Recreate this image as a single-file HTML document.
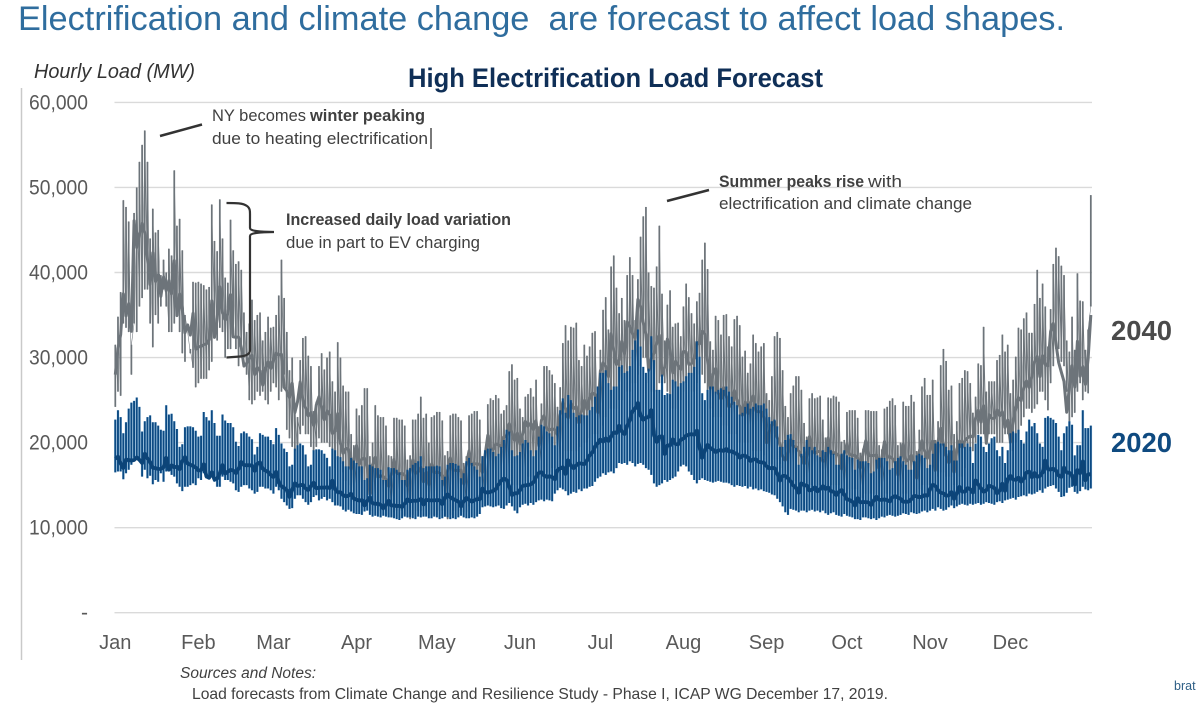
<!DOCTYPE html>
<html lang="en">
<head>
<meta charset="utf-8">
<title>High Electrification Load Forecast</title>
<style>
html,body{margin:0;padding:0;background:#fff;}
body{width:1200px;height:707px;overflow:hidden;}
svg{display:block;font-family:"Liberation Sans",sans-serif;}
</style>
</head>
<body>
<svg id="chart" width="1200" height="707" viewBox="0 0 1200 707" xmlns="http://www.w3.org/2000/svg">
  <text x="18" y="30" font-size="34" fill="#2f6d9e" textLength="1047" lengthAdjust="spacingAndGlyphs">Electrification and climate change&#160; are forecast to affect load shapes.</text>
  <text x="408" y="87" font-size="27" font-weight="bold" fill="#0f2f57" textLength="415" lengthAdjust="spacingAndGlyphs">High Electrification Load Forecast</text>
  <text x="34" y="78" font-size="20" font-style="italic" fill="#333" textLength="161" lengthAdjust="spacingAndGlyphs">Hourly Load (MW)</text>
  <line x1="21.5" y1="88" x2="21.5" y2="660" stroke="#c9c9c9" stroke-width="1.5"/>
  <g id="grid"></g>
  <g id="yticks"></g>
  <g id="xticks"></g>
  <g id="marks"></g>

  <line x1="160" y1="136" x2="202" y2="124.5" stroke="#333" stroke-width="2.5"/>
  <text x="212" y="121" font-size="16.5" fill="#404040" textLength="94" lengthAdjust="spacingAndGlyphs">NY becomes</text>
  <text x="310" y="121" font-size="16.5" font-weight="bold" fill="#404040" textLength="115" lengthAdjust="spacingAndGlyphs">winter peaking</text>
  <text x="212" y="144" font-size="16.5" fill="#404040" textLength="216" lengthAdjust="spacingAndGlyphs">due to heating electrification</text>
  <line x1="431" y1="128" x2="431" y2="149" stroke="#222" stroke-width="1.2"/>

  <path d="M226.5 203 C236 203 243 203 247 206 C250 208 250 211 250 214 L250 228 C250 231 260 232 274 232 C260 232 250 233 250 236 L250 350 C250 354 246 356 240 356.5 L226.5 357.5" fill="none" stroke="#333" stroke-width="2.2"/>
  <text x="286" y="225" font-size="16.5" font-weight="bold" fill="#404040" textLength="225" lengthAdjust="spacingAndGlyphs">Increased daily load variation</text>
  <text x="286" y="248" font-size="16.5" fill="#404040" textLength="194" lengthAdjust="spacingAndGlyphs">due in part to EV charging</text>

  <line x1="667" y1="201" x2="709" y2="190" stroke="#333" stroke-width="2.5"/>
  <text x="719" y="187" font-size="16.5" font-weight="bold" fill="#404040" textLength="145" lengthAdjust="spacingAndGlyphs">Summer peaks rise</text>
  <text x="868" y="187" font-size="16.5" fill="#404040" textLength="34" lengthAdjust="spacingAndGlyphs">with</text>
  <text x="719" y="209" font-size="16.5" fill="#404040" textLength="253" lengthAdjust="spacingAndGlyphs">electrification and climate change</text>

  <text x="1111" y="340" font-size="28" font-weight="bold" fill="#4a4a4a" textLength="61" lengthAdjust="spacingAndGlyphs">2040</text>
  <text x="1111" y="452" font-size="28" font-weight="bold" fill="#0f4a80" textLength="61" lengthAdjust="spacingAndGlyphs">2020</text>

  <text x="180" y="678" font-size="15.5" font-style="italic" fill="#404040" textLength="136" lengthAdjust="spacingAndGlyphs">Sources and Notes:</text>
  <text x="192" y="699" font-size="16" fill="#404040" textLength="696" lengthAdjust="spacingAndGlyphs">Load forecasts from Climate Change and Resilience Study - Phase I, ICAP WG December 17, 2019.</text>
  <text x="1174" y="690" font-size="12.5" fill="#2e5f86">brat</text>
</svg>
<script>
// All load values are in thousands of MW, one entry per day of the year.
const months = ["Jan","Feb","Mar","Apr","May","Jun","Jul","Aug","Sep","Oct","Nov","Dec"];
const monthStartDays = [0,31,59,90,120,151,181,212,243,273,304,334];
const yTicks = [0,10000,20000,30000,40000,50000,60000];
const high2040 = [
31.5,34.8,37.7,48.5,47.7,46,31.5,47,50,53,
55,56.7,53,44,47.5,44.7,45,39.7,41.5,40,
42.8,42,52,45.5,46.3,42.6,35,33,31,38.9,
38.8,38.9,38.7,38.5,38,38.3,48,43.7,42.5,48.6,
44,39.4,38.8,46.2,42.6,41,41.3,40.3,35.3,33,
34,36.8,34.4,35,35.3,32,33,34.8,33.5,33.6,
35,37.3,41.5,37,33,28.5,30,24,23,29.7,
32.3,32.5,30.2,29,23.7,24.8,29,30.5,28.6,30,
30.7,27.2,26,31.8,30,26.7,26,26,21,19.7,
24,23.2,24.4,26.4,26.4,18.4,20,24.4,23.2,23,
23,22,18.5,18.4,22.9,22.9,22.7,22.7,22,18,
18.5,22.7,22.7,23.4,25.4,22.9,23.4,20,23,23.2,
23.6,23.6,22.6,18.5,19,23.2,23.4,23.4,23,22.6,
17.6,18.4,23.2,23.4,23.7,23.7,22.7,18.4,18.8,24.5,
25.2,25,25.6,25.2,23.4,23.8,24.4,28.4,29.2,27.4,
27.6,24,23,25.4,25.7,26.4,25.4,27.4,21.9,24.6,
29,29,28.5,28,27,24.2,26.5,31.7,33.8,32,
33.6,33.5,34.1,29.7,29,31.5,30.2,31.3,32.9,33.1,
26.6,30.9,35.6,37.1,33.3,40.7,42,38.2,35.2,37,
34.4,39.7,41.8,39.7,34.4,39.2,44.2,46.6,47.7,40,
38.4,38.2,40.7,45.5,37.5,32,36.2,37.9,33.6,34,
34.1,32.5,36,38.7,37.1,35.2,34,36.6,37.6,41.5,
43.5,40.4,31.9,30.9,34.9,34.4,32.7,35,35.1,32.5,
31.3,34.5,34.9,33.8,30.1,30.8,28.2,29.3,32.7,31.7,
30.7,31.3,31.7,25.8,25,27.8,32.5,33,32.3,28.5,
24.3,23,25.8,26.7,27.8,27.8,26.2,22.3,20.7,25.2,
25.8,25.2,25.3,25.5,22.7,20.6,25.3,25.2,25.5,25.4,
24.8,20.1,20.3,23.6,23.8,23.8,23.8,22.9,18.8,19.3,
23.8,23.8,23.7,23.7,23.7,19.7,19.2,24,24.2,24.9,
25.2,24.4,19.7,20,24.8,24.3,24.3,25.6,24.8,19,
21.5,26.6,27.6,25.6,25.6,27.4,20.3,22.5,29.1,31,
29.6,26.2,26.7,21,22.5,27,27.6,28.5,28.4,27,
23.5,25.4,29.3,29.1,33.6,26,27.2,27.2,27.2,29.7,
30.3,32.7,30.7,31.5,25.8,27.4,30.1,33.5,33.3,34.6,
35.3,32.9,32.9,36.3,40.3,37,38.7,36,31.3,35.7,
41,42.9,41.9,40.8,39.7,32,30.7,34.8,30.9,39.9,
36.7,36.6,30.9,33.3,49.1];
const low2040 = [
24.2,26,25.5,34,33.5,33,28,34,33,36,
37,38,38,34,31.2,35,34,36,38,36,
33,33,34,37,33,30.5,29.5,33,30.5,28.8,
26.5,27,27.5,27.5,27.5,28.5,29.5,34,32,33.5,
33,30,31,31,33,31,29,30,30,28,
25,24.5,25,26,25.5,26,25,24.5,26,27,
26.5,25,26,28,21.5,20.5,19.5,19,18,21,
22,21,21,19.5,19,19.5,20.5,20,20,20,
19.5,18,17,18,17.5,16.5,15.5,15,14,13,
13.5,13,13,13,12.5,12,12,12.5,12.5,12,
12,12,11.5,11.2,11.8,12,12,12,11.5,11.2,
11,11.5,12,12,12,12,12.5,11.5,11.5,11.5,
11.5,12,12,11.3,11,11.5,12,12,12,12,
11.8,11.8,12.5,13,13,13,13,12.5,12.5,13.5,
14,14,14.5,15,15,15.5,15.5,15.5,15,15,
15,15,15,15.5,16,16,16,16,16,16.5,
16.5,16.5,16.5,17,17,17,17,18,19,19,
19,19,19,19.5,19.5,20,20,20.5,21,21,
21,21.5,22,23,24,24,24,24,25,25,
25,26,26,27,27,28,29,30,30,27,
26,25,26,27,27,27,26,25,24,24,
25,25,26,27,28,26,26,27,28,28,
27,25,24,23,23,23,23,22,22,21,
21,21,21,20,20,20,20,20,19,19,
19,19,18.5,18,17.5,17.5,18,18,17.5,17,
16,15.5,15.5,15.5,15.5,15,15,14.5,14.5,15,
15,15,15,15,14.5,14.5,15,15,15,15,
15,14,14,14,14.5,14.5,14.5,14.5,13.5,13.5,
14,14,14,14,14,13.5,13.5,14,14,14,
14,14,13.5,13.5,14,14,14,14,14,14,
14.5,15,15,15,15,15,15,16,16.5,16.5,
16,16,16,15,15,16,16,17,18,19,
19,20,21,21,21,20,21,21,21,20,
20,20,21,21,19,19,20,21,22,23,
24,24,23.5,24,24.5,26,26,25,23.8,27,
29,31,31,29.5,29,26,22.5,23,23.5,26,
27,25,26,25.8,36];
const high2020 = [
22.7,23.8,23,21.1,22.4,24,24.7,24.9,25.3,24.2,
21.3,22.5,23,23.2,22.4,22.4,22,21.5,21.4,24.4,
23.3,23.4,22.5,21.6,19.5,19.8,21.8,21.9,21.9,21.8,
21.4,20.7,20.8,23.6,23,22.6,23.8,22.3,20.8,20.8,
23.3,22.6,22.3,22.3,21.8,20.1,19.6,21.1,21.3,21.1,
20.7,20.4,18.6,19.5,21.1,20.9,20.7,20.7,20.3,19.8,
21.7,20.9,19.9,19.3,18.9,17.2,17.4,19.3,19.7,19.9,
19.7,18.6,17.2,17.4,19.1,19.2,19.2,19.1,18.7,18.2,
17.2,19.3,19.1,18.4,18.3,17.8,17.2,17.2,18.2,17.9,
17.6,17.2,17.2,15.6,15.8,17.4,17.2,17,17,16.8,
15.6,15.6,17.1,17,17,16.8,16.5,15.6,15.6,16.8,
17,17.4,17.6,17.8,18.4,17,17.2,17.2,17.2,17.2,
17.3,17.2,15.6,16,17.4,17.6,17.6,17.5,17.3,15.8,
16.4,17.8,18.2,17.6,17.2,16.8,16,18.4,19.1,19.3,
19.3,18.9,18.4,18.7,19.5,20.3,21.5,21.3,19.1,18.4,
18.5,18.9,19.9,20.3,20,19.1,18.4,19.1,20.7,22.1,
21.9,21.3,21.1,20.7,19.7,21.9,23.8,25.2,23.5,25.6,
25,23.5,23,23.2,23.3,23.2,23.2,23.8,24.2,25.4,
26.6,28.2,28.2,28.5,27,26.2,26.6,26.6,28.9,29.1,
28.2,28.4,29,30.9,32,33.3,31.3,28.9,28.2,28.7,
32.5,29.7,26.2,26.2,28,25.6,25.8,25.7,27.4,27.2,
26.6,27,27.2,27.8,28.2,28.2,28.9,31.9,30.1,25.8,
25,26.2,26.6,26.6,26,26.2,26.4,26.2,26.6,26,
25.4,24.8,24.4,23.3,23.5,24.2,24.6,24,24.2,24.6,
24.4,24.4,24.6,24,23,22.5,22.7,21.9,19.5,19.5,
20.3,20.9,21,20.3,19.4,17.4,18.7,19.5,20.3,19.5,
19.1,19.5,18.5,18.3,19.1,18.9,19.5,19.1,18.7,17.4,
17.4,18.7,19.1,18.5,18.3,18.2,16.8,18,17.8,17.8,
17.8,17.6,16.4,16.6,18,18.2,18.2,18.2,17.8,16.8,
17,17.8,18.2,18.4,17.8,17.4,16.8,16.8,17.8,18.5,
18.7,18.5,18.2,17,17.4,18.7,19.9,20.1,19.9,19.9,
19.5,19.1,19.7,17.9,17.9,19.9,19.9,19.5,19.9,19.5,
17.6,19.9,20.9,20.7,19.5,18.9,19.9,20.5,20.7,19.1,
18.4,19.5,17.6,19.1,21.1,21.3,21.1,21.5,20.3,19.9,
21.3,22.7,21.9,22.3,21.1,19.9,19.5,22.9,23.1,22.9,
22.7,22.3,20.7,19.1,21.1,21.9,22.5,22.1,18.5,19.7,
19.7,23.8,21.7,21.7,22];
const low2020 = [
16.5,16.6,16.6,15.7,16.4,16.8,17.4,18.2,18.4,17.8,
16,16.8,15.8,16.1,15.1,15.6,15.4,16.4,15.4,16.6,
16.6,16.2,16,15.2,14.8,14.3,14.8,14.8,15,15.2,
15,15.8,15.6,16.4,15.8,16,16.4,15.4,14.8,14.8,
16,15.6,15.6,15.4,15.2,14.4,14.2,14.8,15,15,
14.6,14.4,14,14.2,14.8,14.8,14.6,14.6,14.4,14,
14.8,14.4,13.4,13,12.6,12.2,12.3,13.4,13.8,13.8,
13.4,13,12.7,13,13.6,13.8,13.2,13.4,13.6,13.2,
13.4,13,12.6,12.6,12.5,12.1,11.9,12.1,11.9,11.7,
11.6,11.6,11.5,11.9,12,11.5,11.3,11.4,11.3,11.2,
11.4,11.3,11.2,11.2,11.1,11,10.9,11.1,11.3,11.2,
11.2,11.1,11,11.3,11.2,11.3,11.3,11.1,11.1,11.3,
11.2,11,11.1,11.3,11.2,11,11.1,11,11.2,11.4,
11.2,11.1,11.1,11.2,11.1,11.3,11.6,12.4,12.5,12.6,
12.5,12.4,12.5,12.6,12.3,12.2,12.6,12.9,12.5,12,
11.7,12.4,12.7,12.8,12.6,12.9,12.7,13,13.2,13.3,
13.1,13.3,13.2,13.1,14,14.4,14.7,14.5,14.3,13.8,
14,14.2,14.1,14.5,14.3,14.6,14.6,14.8,14.9,15.4,
15.8,16,16.4,16.2,16.5,16.6,16.4,17,17.6,17.5,
17.6,17.4,17.8,17.6,17.2,17.5,17.6,17.4,17,16.8,
16.2,15.2,14.8,15,15.2,15.6,15.4,15.6,15.8,16,
16.6,17.2,17.4,17.2,16.6,16.2,15.6,15.2,15.6,15.8,
15.6,15.5,15.4,15.3,15.4,15.5,15.4,15.3,15.3,15.2,
15,14.8,15,14.9,14.8,14.9,14.6,14.8,14.5,14.6,
14.4,14.5,14.3,14.2,14.1,13.9,13.8,13.4,13,12.5,
11.8,11.5,12.2,12.1,12,11.8,12,12,11.8,12,
12.1,11.9,12,11.8,12,11.7,11.5,11.7,11.8,11.5,
11.4,11.3,11.6,11.4,11.3,11.2,11,11,10.9,11.2,
11.2,11.1,11,11.1,10.9,11.1,11.3,11.2,11.4,11.5,
11.4,11.3,11.4,11.5,11.7,11.6,11.5,11.8,11.7,11.6,
11.7,11.9,12,11.8,12,12.2,12,12.4,12.2,12,
12.1,12.4,12.6,12.3,12.5,12.7,12.8,12.7,12.6,12.8,
12.7,12.8,12.9,12.7,12.8,13,12.9,12.8,12.7,13,
13.1,12.9,13.2,13.3,13.4,13.5,13.3,13.6,13.7,13.8,
13.7,14,13.9,14,14.2,14.4,14.1,14.6,14.8,14.9,
15,14.6,14.2,13.6,13.7,14.1,14.7,14.8,14.2,14,
14.3,14.8,14.5,14.4,14.6];
// Typical overnight/shoulder band, sampled every fifth day (last sample = day 364).
const band2040 = [28,37,45,40,38,37,31,32,37,33,29.5,28,30,27,24,24,23,20,18,17,16,16.4,16.4,16.3,16.4,16.6,17,17.5,19,20.5,21,22,21.5,22,24,24,26,30,31.5,35,30.5,31,29,30,32,26,25,24.5,24,21,19.5,19,19,18.8,18.7,18.5,18.5,18.5,18,18,18,19.5,19,18.5,22,22.8,22.9,22,27,29,32,26.5,29,29];
const band2020 = [18.1,17.4,18.6,17,17.2,17.7,17.2,16,16.5,17,17.5,17,15.9,14.2,15.1,14.6,15,14,13.4,13,12.7,12.6,13,13.2,13.2,13.5,12.9,13.5,14.2,15.5,14,15.4,16.2,16,17.5,17.5,19.5,21,21.3,24.2,22.5,19.5,20,21,19.4,19,19.2,18.2,17.8,17.2,15.8,14.8,14.6,14.6,14.2,13.1,13,13.2,13.5,13.2,13.5,14.6,13.9,14.1,14.8,14.6,14.6,15.6,16,16.5,17,16.2,16.4,16.2];

const SVG_NS = "http://www.w3.org/2000/svg";
function xScale(day){ return 115.3 + day * 2.68; }
function yScale(mw){ return 612.7 - mw * 0.008505; }
function rangePath(lows, highs){
  let d = "";
  for (let i = 0; i < Math.min(lows.length, highs.length); i++) {
    const x = xScale(i).toFixed(2);
    d += "M" + x + " " + yScale(lows[i] * 1000).toFixed(1) + "V" + yScale(highs[i] * 1000).toFixed(1);
  }
  return d;
}
function zigzagPath(lows, highs){
  let d = "";
  for (let i = 0; i < Math.min(lows.length, highs.length); i++) {
    const x = xScale(i).toFixed(2);
    d += (i ? "L" : "M") + x + " " + yScale(lows[i] * 1000).toFixed(1) + "L" + x + " " + yScale(highs[i] * 1000).toFixed(1);
  }
  return d;
}
// Band is sampled every 5 days; daily wobble follows the day-to-day swing of the series' peaks.
function bandValue(values, day){
  const k = Math.min(Math.floor(day / 5), values.length - 2);
  const d0 = k * 5, d1 = Math.min((k + 1) * 5, 364);
  return values[k] + (values[k + 1] - values[k]) * (day - d0) / (d1 - d0);
}
function bandPath(values, highs, wobble){
  let d = "";
  for (let day = 0; day <= 364; day++) {
    const prev = highs[Math.max(day - 1, 0)];
    const v = bandValue(values, day) + (highs[day] - prev) * wobble;
    d += (day ? "L" : "M") + xScale(day).toFixed(2) + " " + yScale(v * 1000).toFixed(1);
  }
  return d;
}
function addPath(parent, d, color, width){
  const p = document.createElementNS(SVG_NS, "path");
  p.setAttribute("d", d);
  p.setAttribute("fill", "none");
  p.setAttribute("stroke", color);
  p.setAttribute("stroke-width", width);
  p.setAttribute("stroke-linejoin", "round");
  parent.appendChild(p);
  return p;
}

const gridGroup = document.getElementById("grid");
const yGroup = document.getElementById("yticks");
yTicks.forEach(function(t){
  const y = yScale(t);
  const g = document.createElementNS(SVG_NS, "line");
  g.setAttribute("x1", 114.5);
  g.setAttribute("x2", 1092);
  g.setAttribute("y1", y);
  g.setAttribute("y2", y);
  g.setAttribute("stroke", "#dadada");
  g.setAttribute("stroke-width", 1.4);
  
  
  gridGroup.appendChild(g);

  const l = document.createElementNS(SVG_NS, "text");
  l.setAttribute("x", 88);
  l.setAttribute("y", y + 7);
  l.setAttribute("text-anchor", "end");
  l.setAttribute("font-size", 21);
  l.setAttribute("fill", "#595959");
  if (t > 0) { l.setAttribute("textLength", 59); l.setAttribute("lengthAdjust", "spacingAndGlyphs"); }
  l.textContent = t === 0 ? "-" : t.toLocaleString("en-US");
  
  
  yGroup.appendChild(l);
});

const xGroup = document.getElementById("xticks");
months.forEach(function(m, i){
  const l = document.createElementNS(SVG_NS, "text");
  l.setAttribute("x", xScale(monthStartDays[i]));
  l.setAttribute("y", 649);
  l.setAttribute("text-anchor", "middle");
  l.setAttribute("font-size", 20);
  l.setAttribute("fill", "#595959");
  l.textContent = m;
  
  
  xGroup.appendChild(l);
});

const marks = document.getElementById("marks");
const halo = addPath(marks, rangePath(low2020, high2020), "#b9d8ee", 2.68);


const range2040 = addPath(marks, rangePath(low2040, high2040), "#6d747a", 1.75);


const zigzag2040 = addPath(marks, zigzagPath(low2040, high2040), "#6d747a", 0.55);


const mid2040 = addPath(marks, bandPath(band2040, high2040, 0.38), "#6d747a", 3);


const range2020 = addPath(marks, rangePath(low2020, high2020), "#0c4a83", 1.9);


const mid2020 = addPath(marks, bandPath(band2020, high2020, 0.35), "#0c4478", 3.8);


</script>
</body>
</html>
